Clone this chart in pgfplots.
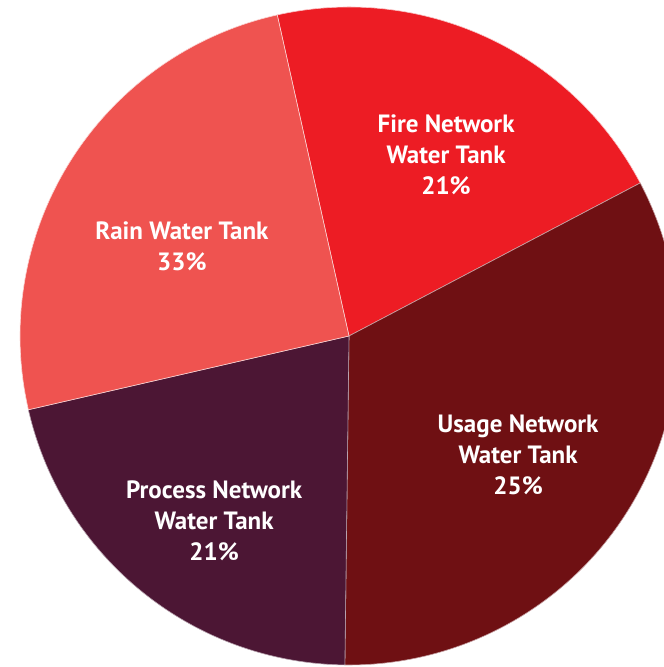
\documentclass[border=0pt]{standalone}
\usepackage{pgfplots}
\pgfplotsset{compat=1.18}
\usepackage{pgfplotstable}
\usepackage{fontspec}
\setmainfont{PT Sans}
\definecolor{cFire}{HTML}{ED1C24}
\definecolor{cUsage}{HTML}{6F1013}
\definecolor{cProcess}{HTML}{4C1634}
\definecolor{cRain}{HTML}{EF5350}
% slice sizes (percent of the circle, as drawn)
\pgfplotstableread{
name value
Fire 20.8
Usage 32.9
Process 21.2
Rain 25.1
}\piedata
\begin{document}
\begin{tikzpicture}
\pgfplotstablegetelem{0}{value}\of\piedata \let\vA\pgfplotsretval
\pgfplotstablegetelem{1}{value}\of\piedata \let\vB\pgfplotsretval
\pgfplotstablegetelem{2}{value}\of\piedata \let\vC\pgfplotsretval
\pgfplotstablegetelem{3}{value}\of\piedata \let\vD\pgfplotsretval
\pgfmathsetmacro\aA{102.6}
\pgfmathsetmacro\aB{\aA-3.6*\vA}
\pgfmathsetmacro\aC{\aB-3.6*\vB}
\pgfmathsetmacro\aD{\aC-3.6*\vC}
\pgfmathsetmacro\aE{\aD-3.6*\vD}
\begin{axis}[x=164.5pt, y=164.5pt,
  xmin=-1.0608, xmax=0.9574, ymin=-1.0061, ymax=1.0213,
  hide axis, clip=true]
\fill[cFire, draw=white!75!cFire, line width=0.3pt] (axis cs:0,0) -- (axis cs:{cos(\aA)},{sin(\aA)}) arc[start angle=\aA, end angle=\aB, radius=164.5pt] -- cycle;
\fill[cUsage, draw=white!60!cUsage, line width=0.3pt] (axis cs:0,0) -- (axis cs:{cos(\aB)},{sin(\aB)}) arc[start angle=\aB, end angle=\aC, radius=164.5pt] -- cycle;
\fill[cProcess, draw=white!60!cProcess, line width=0.3pt] (axis cs:0,0) -- (axis cs:{cos(\aC)},{sin(\aC)}) arc[start angle=\aC, end angle=\aD, radius=164.5pt] -- cycle;
\fill[cRain, draw=white!75!cRain, line width=0.3pt] (axis cs:0,0) -- (axis cs:{cos(\aD)},{sin(\aD)}) arc[start angle=\aD, end angle=\aE, radius=164.5pt] -- cycle;
\tikzset{lbl/.style={align=center, text=white, font=\bfseries\fontsize{12.5}{15.5}\selectfont}}
\node[lbl] at (axis cs:0.295,0.550) {Fire Network\\Water Tank\\21\%};
\node[lbl] at (axis cs:0.514,-0.362) {Usage Network\\Water Tank\\25\%};
\node[lbl] at (axis cs:-0.410,-0.562) {Process Network\\Water Tank\\21\%};
\node[lbl] at (axis cs:-0.508,0.274) {Rain Water Tank\\33\%};
\end{axis}
\pgfresetboundingbox
\useasboundingbox (current axis.south west) rectangle (current axis.north east);
\end{tikzpicture}
\end{document}
